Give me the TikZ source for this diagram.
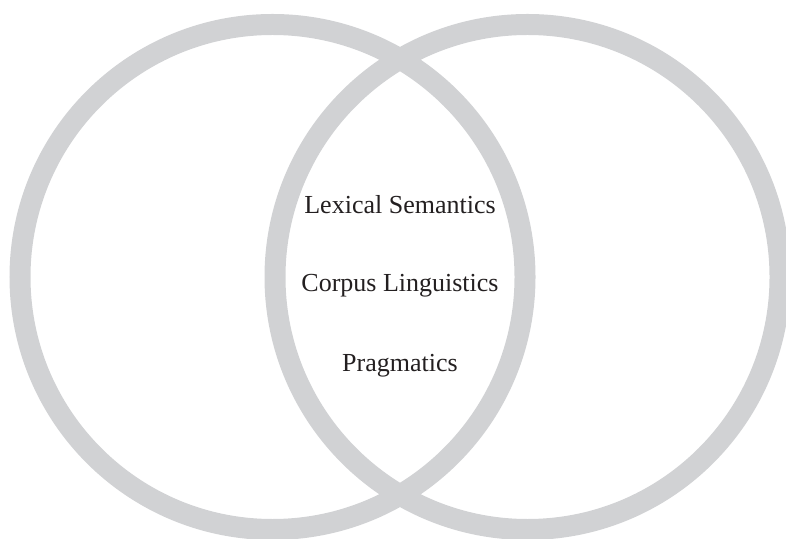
\documentclass[tikz,border=0pt]{standalone}
\usepackage{fontspec}
\setmainfont{Liberation Serif}
\definecolor{ringgray}{HTML}{D1D2D4}
\definecolor{txt}{HTML}{231F20}
\begin{document}
\begin{tikzpicture}[x=1pt,y=1pt,
  ring/.style={draw=ringgray, line width=21pt},
  lbl/.style={anchor=base, text=txt, font=\fontsize{26}{29}\selectfont, inner sep=0pt}]
\useasboundingbox (0,0) rectangle (786,538);
\begin{scope}
\clip (0,0) rectangle (786,538);
\node[ring, circle, minimum size=505pt, inner sep=0pt] (left) at (272.5,261) {};
\node[ring, circle, minimum size=505pt, inner sep=0pt] (right) at (527.5,261) {};
\end{scope}
\node[lbl] (lex) at (400,324) {Lexical Semantics};
\node[lbl] (corp) at (400,246.5) {Corpus Linguistics};
\node[lbl] (prag) at (400,166) {Pragmatics};
\end{tikzpicture}
\end{document}
